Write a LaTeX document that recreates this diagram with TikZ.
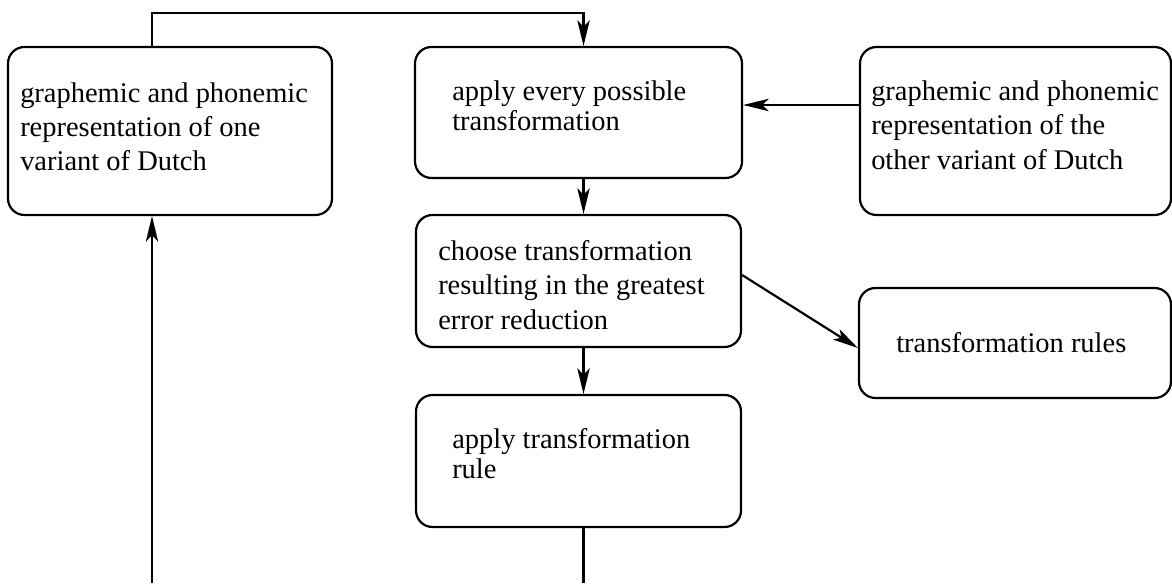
\documentclass[tikz,border=0pt]{standalone}
\usepackage{fontspec}
\setmainfont{Liberation Serif}
\usepackage{tikz}
\usetikzlibrary{arrows.meta, positioning}

\begin{document}
\begin{tikzpicture}[
  box/.style={draw, line width=1.25pt, rounded corners=0.33cm, inner sep=0pt},
  txt/.style={inner sep=0pt, align=left, font=\fontsize{16.2}{19.5}\selectfont},
  txttwo/.style={txt, font=\fontsize{16.2}{17}\selectfont},
  link/.style={line width=1.25pt},
  flow/.style={link, -{Stealth[length=14.5pt, width=7pt, inset=3.5pt]}}
]
  \useasboundingbox (0,0) rectangle (23.44,11.66);

  % --- Boxes ---
  \node[box, minimum width=6.48cm, minimum height=3.36cm] (source) at (3.40,9.04) {};
  \node[box, minimum width=6.54cm, minimum height=2.62cm] (apply) at (11.57,9.41) {};
  \node[box, minimum width=6.50cm, minimum height=2.64cm] (choose) at (11.57,6.04) {};
  \node[box, minimum width=6.50cm, minimum height=2.64cm] (applyrule) at (11.57,2.44) {};
  \node[box, minimum width=6.22cm, minimum height=3.36cm] (other) at (20.31,9.04) {};
  \node[box, minimum width=6.24cm, minimum height=2.20cm] (rules) at (20.30,4.80) {};

  % --- Texts ---
  \node[txt, right=0.26cm of source.west, yshift=0.085cm] (source-txt)
       {graphemic and phonemic\\representation of one\\variant of Dutch};
  \node[txttwo, right=0.76cm of apply.west, yshift=0.13cm] (apply-txt)
       {apply every possible\\transformation};
  \node[txt, right=0.46cm of choose.west, yshift=-0.08cm] (choose-txt)
       {choose transformation\\resulting in the greatest\\error reduction};
  \node[txttwo, right=0.74cm of applyrule.west, yshift=0.15cm] (applyrule-txt)
       {apply transformation\\rule};
  \node[txt, right=0.24cm of other.west, yshift=0.12cm] (other-txt)
       {graphemic and phonemic\\representation of the\\other variant of Dutch};
  \node[txt, right=0.76cm of rules.west] (rules-txt) {transformation rules};

  % --- Loop lines ---
  \coordinate (topleft) at (3.04,11.40);
  \coordinate (topright) at (11.67,11.40);
  \coordinate (outA) at (11.67,0);
  \coordinate (inB) at (3.04,0);

  % --- Connectors ---
  \draw[flow] (topleft |- source.north) -- (topleft) -- (topright) -- (topright |- apply.north);
  \draw[flow] ([yshift=0.52cm]other.west) -- ([yshift=0.15cm]apply.east);
  \draw[flow] (apply.south -| outA) -- (choose.north -| outA);
  \draw[flow] ([yshift=0.12cm]choose.east) -- ([yshift=-0.10cm]rules.west);
  \draw[flow] (choose.south -| outA) -- (applyrule.north -| outA);
  \draw[link] (applyrule.south -| outA) -- (outA);
  \draw[flow] (inB) -- (inB |- source.south);
\end{tikzpicture}
\end{document}
